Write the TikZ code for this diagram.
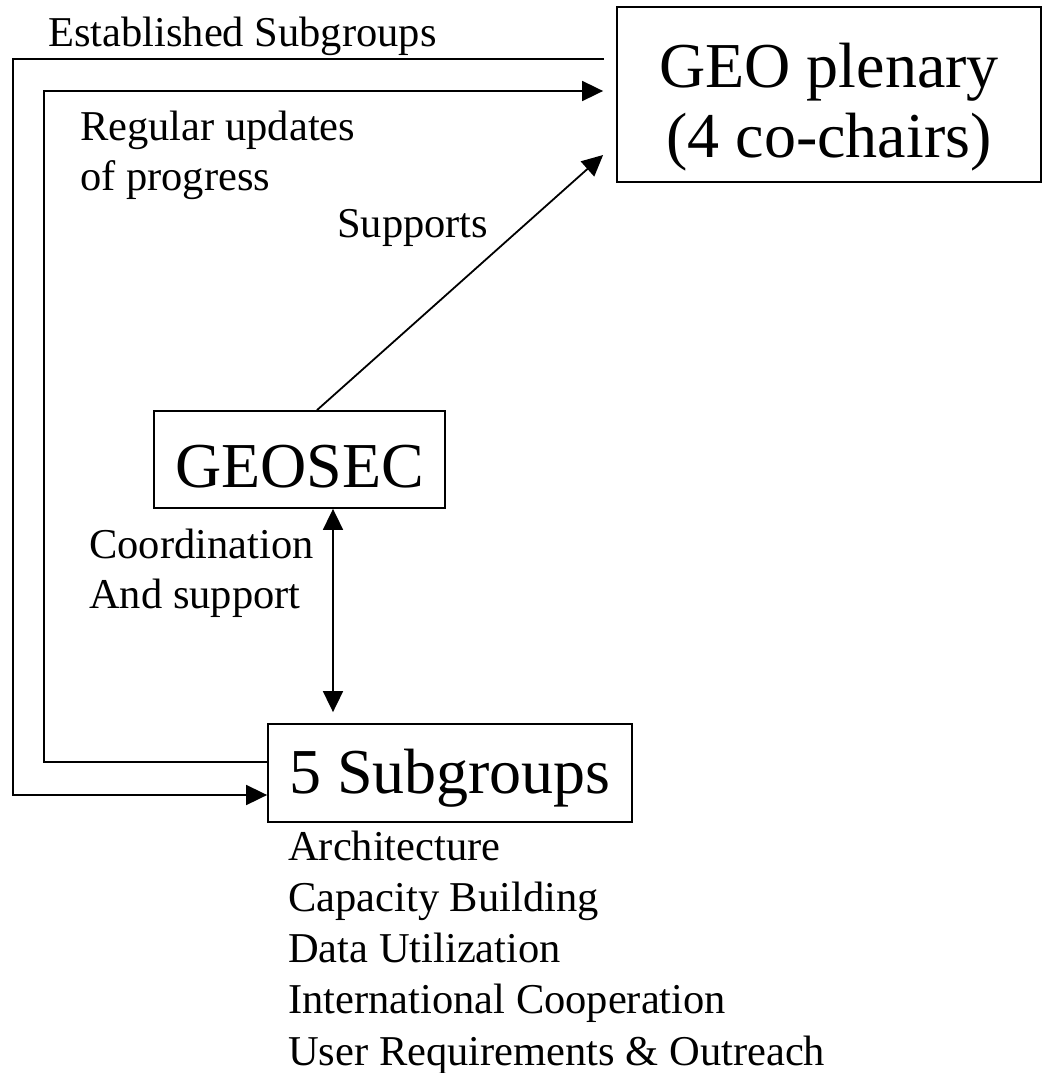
\documentclass[tikz,border=0pt]{standalone}
\usepackage{fontspec}
\setmainfont{Liberation Serif}
\usetikzlibrary{arrows.meta}
\tikzset{
  box/.style={draw,line width=1.8pt,inner sep=0pt},
  big/.style={font=\fontsize{64}{69}\selectfont,inner sep=0pt},
  lbl/.style={font=\fontsize{42.5}{50}\selectfont,inner sep=0pt,anchor=base west},
  link/.style={line width=1.8pt},
  tip/.style={-{Triangle[length=21pt,width=20pt]}},
  tips/.style={{Triangle[length=21pt,width=20pt]}-{Triangle[length=21pt,width=20pt]}},
}
\begin{document}
\begin{tikzpicture}[x=1pt,y=-1pt]
    \useasboundingbox (0,0) rectangle (1043,1073);
    %% Boxes
    \node[box,minimum width=424pt,minimum height=175pt] (plen) at (829,94.5) {};
    \node[big,anchor=base] (plen1) at (829,88) {GEO plenary};
    \node[big,anchor=base] (plen2) at (829,157) {(4 co-chairs)};
    \node[box,big,minimum width=291pt,minimum height=97pt,text height=55pt,text depth=0pt] (geosec) at (299.5,459.5) {GEOSEC};
    \node[box,big,minimum width=364pt,minimum height=98pt,text height=40pt,text depth=0pt] (sub) at (450,773) {5 Subgroups};
    %% Corners
    \coordinate (outer) at (13,59);
    \coordinate (inner) at (44,91);
    %% Links
    \draw[link,tip] ([xshift=-12pt]plen.west |- outer) -- (outer) |- ([yshift=-22pt]sub.west);
    \draw[link,tip] ([yshift=11pt]sub.west) -| (inner) -- ([xshift=-13pt]plen.west |- inner);
    \draw[link,tip] ([xshift=17.5pt]geosec.north) -- ([xshift=-13pt,yshift=-60.5pt]plen.west);
    \draw[link,tips] ([xshift=33.5pt]geosec.south) -- ([xshift=33.5pt,yshift=11pt]geosec.south |- sub.north);
    %% Labels
    \node[lbl] (est) at (48,47) {Established Subgroups};
    \node[lbl] (reg1) at (80,140) {Regular updates};
    \node[lbl] (reg2) at (80,190) {of progress};
    \node[lbl] (supp) at (337,237) {Supports};
    \node[lbl] (coord1) at (89,558) {Coordination};
    \node[lbl] (coord2) at (89,608) {And support};
    %% Subgroup list
    \foreach \name [count=\i] in {Architecture, Capacity Building, Data Utilization, International Cooperation, User Requirements \& Outreach}
        \node[lbl] (item\i) at (288,{860+51.25*(\i-1)}) {\name};
\end{tikzpicture}
\end{document}
